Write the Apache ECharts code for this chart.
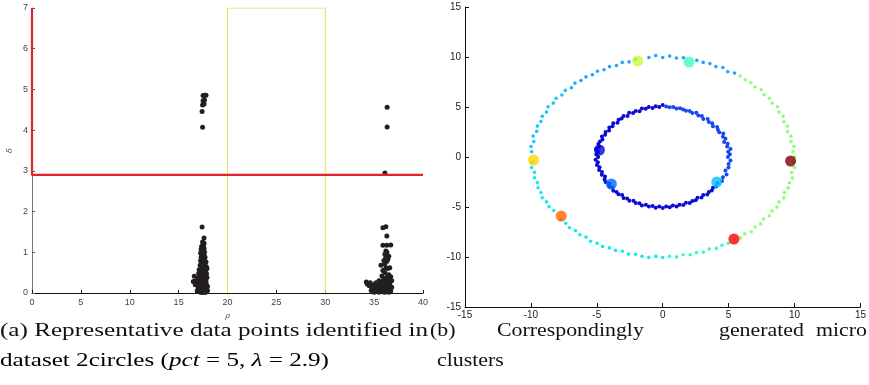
<!DOCTYPE html>
<html><head><meta charset="utf-8">
<script src="https://cdn.jsdelivr.net/npm/echarts@6/dist/echarts.min.js"></script>
<style>html,body{margin:0;padding:0;background:#fff}#c{width:869px;height:385px}</style>
</head><body><div id="c"></div>
<script>
// ---------- panel (a): decision graph (rho, delta) ----------
const rhoTicks = [0, 5, 10, 15, 20, 25, 30, 35, 40];
const deltaTicks = [0, 1, 2, 3, 4, 5, 6, 7];
const lambda = 2.9;
const selectBox = [[20, 0], [20, 7], [30, 7], [30, 0]];
const cluster1Points = [
 [17.3,0.01],[17.5,0.02],[17.7,0.02],[17.1,0.03],[17.9,0.04],[17.4,0.05],[17.6,0.06],[17.2,0.07],[17.8,0.08],[17.0,0.09],
 [17.45,0.10],[17.65,0.11],[17.35,0.12],[17.55,0.13],[17.15,0.14],[17.75,0.15],[17.95,0.16],[17.25,0.17],[17.5,0.18],[17.05,0.19],
 [17.85,0.20],[17.4,0.21],[17.6,0.22],[17.3,0.23],[17.7,0.24],[16.9,0.25],[17.2,0.26],[17.5,0.27],[17.8,0.28],[17.1,0.29],
 [17.45,0.30],[17.65,0.31],[16.8,0.30],[17.35,0.32],[17.55,0.34],[17.25,0.35],[17.75,0.36],[17.0,0.37],[17.9,0.38],[17.4,0.39],
 [16.6,0.41],[17.6,0.40],[17.3,0.42],[17.15,0.44],[17.5,0.45],[17.7,0.46],[17.85,0.48],[17.2,0.49],[17.45,0.50],[17.6,0.52],
 [17.35,0.53],[17.55,0.55],[17.75,0.56],[17.1,0.57],[17.25,0.58],[17.9,0.60],[17.5,0.61],[17.4,0.62],[17.65,0.63],[17.3,0.65],
 [17.55,0.66],[17.2,0.68],[17.7,0.69],[17.45,0.71],[17.6,0.73],[17.35,0.75],[17.8,0.76],[17.5,0.78],[17.25,0.79],[17.65,0.81],
 [17.4,0.83],[17.55,0.85],[17.3,0.87],[17.7,0.88],[17.45,0.90],[17.6,0.92],[17.35,0.94],[17.5,0.96],[17.25,0.98],[17.65,1.00],
 [17.4,1.02],[17.55,1.05],[17.3,1.07],[17.6,1.09],[17.45,1.11],[17.35,1.14],[17.55,1.16],[17.5,1.19],[17.6,1.22],[17.45,1.25],
 [17.6,1.35],[17.4,1.62],[16.9,0.05],[17.0,0.15],[17.95,0.06],[17.85,0.12],[16.95,0.35],[17.8,0.44],[17.15,0.08],[17.65,0.03],
 [16.5,0.28],[16.7,0.20],[17.05,0.48],[17.85,0.64],[17.75,0.02]
];
const cluster1Peaks = [[17.45,4.07],[17.4,4.46],[17.45,4.62],[17.6,4.64],[17.5,4.72],[17.65,4.74],[17.5,4.85],[17.65,4.86],[17.8,4.86]];
const cluster2Points = [
 [34.2,0.27],[34.3,0.22],[34.5,0.18],[34.6,0.25],[34.8,0.12],[34.9,0.2],[35.0,0.08],[35.1,0.15],[35.2,0.25],[35.3,0.05],
 [35.4,0.12],[35.5,0.3],[35.6,0.08],[35.7,0.2],[35.8,0.04],[35.9,0.15],[36.0,0.1],[36.1,0.25],[36.2,0.05],[36.3,0.18],
 [36.4,0.3],[36.5,0.1],[36.6,0.22],[36.7,0.4],[36.8,0.14],[35.0,0.02],[35.2,0.1],[35.5,0.02],[35.7,0.1],[35.9,0.03],
 [36.1,0.02],[36.3,0.06],[36.5,0.02],[36.7,0.05],[34.9,0.05],[35.4,0.22],[35.6,0.28],[35.8,0.25],[36.0,0.3],[36.2,0.22],
 [36.4,0.15],[36.6,0.08],[34.7,0.06],[35.3,0.18],[36.8,0.3],
 [36.0,0.35],[36.3,0.38],[35.8,0.42],[36.5,0.45],[36.1,0.5],[35.9,0.55],[36.4,0.6],[36.2,0.62],[35.7,0.68],[36.6,0.62],
 [36.1,0.72],[36.3,0.78],[36.0,0.8],[36.4,0.83],[36.2,0.88],[36.5,0.9],[36.1,0.95],[36.3,1.0],[36.2,1.03],
 [35.9,1.17],[36.3,1.17],[36.7,1.18],[36.3,1.4],[35.9,1.6],[36.2,1.63]
];
const cluster2Peaks = [[36.1,2.95],[36.33,4.08],[36.33,4.56]];

// ---------- panel (b): 2circles micro clusters (x, y) ----------
const axisTicksB = [-15, -10, -5, 0, 5, 10, 15];
const innerRight = [
 [4.05,-2.94],[4.16,-2.60],[4.50,-2.39],[4.57,-2.03],[4.84,-1.76],[4.76,-1.36],[4.99,-1.06],[5.00,-0.70],[5.14,-0.36],[4.95,0.0],
 [5.09,0.27],[4.97,0.52],[5.14,0.81],[4.89,1.04],[4.93,1.32],[4.66,1.51],[4.76,1.83],[4.57,2.03],[4.59,2.34],[4.29,2.48],
 [4.19,2.72],[4.13,3.00],[3.81,3.08],[3.75,3.38],[3.50,3.50],[3.41,3.79],[3.08,3.81],[2.97,4.09],[2.70,4.15],[2.55,4.42],
 [2.25,4.41],[2.05,4.61],[1.77,4.62],[1.55,4.76],[1.31,4.88],[1.03,4.84],[0.79,4.99],[0.52,4.97],[0.26,5.04]
];
const innerLeft = [
 [0.0,5.2],[-0.26,4.99],[-0.53,5.07],[-0.77,4.89],[-1.06,4.99],[-1.29,4.83],[-1.58,4.85],[-1.76,4.57],[-2.05,4.61],[-2.25,4.41],
 [-2.55,4.42],[-2.67,4.11],[-2.97,4.09],[-3.12,3.85],[-3.35,3.72],[-3.43,3.43],[-3.75,3.38],[-3.81,3.08],[-4.05,2.94],[-4.07,2.64],
 [-4.33,2.50],[-4.37,2.22],[-4.61,2.05],[-4.57,1.76],[-4.76,1.55],[-4.88,1.31],[-4.84,1.03],[-5.04,0.80],[-4.92,0.52],[-5.04,0.26],
 [-4.9,0.0],[-5.09,-0.27],[-4.92,-0.52],[-4.99,-0.79],[-4.79,-1.02],[-4.83,-1.29],[-4.61,-1.50],[-4.62,-1.77],[-4.38,-1.95],[-4.41,-2.25],
 [-4.33,-2.50],[-4.07,-2.64],[-4.05,-2.94],[-3.81,-3.08],[-3.75,-3.38],[-3.50,-3.50],[-3.35,-3.72],[-3.08,-3.81],[-2.97,-4.09],[-2.70,-4.15],
 [-2.53,-4.37],[-2.22,-4.37],[-2.05,-4.61],[-1.77,-4.62],[-1.58,-4.85],[-1.28,-4.78],[-1.05,-4.94],[-0.77,-4.89],[-0.53,-5.07],[-0.26,-4.94],
 [0.0,-5.1],[0.26,-4.94],[0.53,-5.02],[0.77,-4.84],[1.05,-4.94],[1.28,-4.78],[1.56,-4.80],[1.76,-4.57],[2.05,-4.61],[2.25,-4.41],
 [2.50,-4.33],[2.64,-4.07],[2.94,-4.05],[3.08,-3.81],[3.38,-3.75],[3.50,-3.50],[3.72,-3.35],[3.81,-3.08]
];
const outerTop = [
 [5.45,8.39],[4.93,8.53],[4.56,8.95],[4.03,9.04],[3.58,9.34],[3.07,9.46],[2.59,9.66],[1.57,9.93],[1.04,9.90],[0.53,10.09],
 [0.0,9.95],[-0.53,10.14],[-1.05,9.95],[-2.08,9.78],[-2.55,9.51],[-3.07,9.46],[-3.51,9.15],[-4.03,9.04],[-4.45,8.73],[-4.95,8.57],
 [-5.34,8.22],[-5.82,8.01],[-6.20,7.65],[-6.66,7.39],[-6.93,6.93]
];
const outerUpperLeft = [
 [-7.39,6.66],[-7.65,6.20],[-8.09,5.88],[-8.30,5.39],[-8.70,5.03],[-8.82,4.49],[-9.14,4.07],[-9.24,3.55],[-9.51,3.09],[-9.56,2.56],
 [-9.83,2.09],[-9.78,1.55],[-9.99,1.05],[-9.94,0.52]
];
const outerLowerLeft = [
 [-9.89,-0.52],[-9.95,-1.05],[-9.73,-1.54],[-9.73,-2.07],[-9.51,-2.55],[-9.46,-3.07],[-9.24,-3.55],[-9.14,-4.07],[-8.82,-4.49],[-8.62,-4.98],
 [-8.26,-5.36],[-7.73,-6.26],[-7.36,-6.62],[-7.07,-7.07],[-6.62,-7.36],[-6.29,-7.77],[-5.82,-8.01],[-5.47,-8.43],[-4.98,-8.62],[-4.56,-8.95],
 [-4.05,-9.09],[-3.58,-9.34],[-3.06,-9.42],[-2.60,-9.71],[-2.07,-9.73],[-1.57,-9.93],[-1.06,-10.04],[-0.52,-9.94],[0.0,-10.05]
];
const outerBottom = [
 [0.52,-9.94],[1.05,-9.99],[1.55,-9.78],[2.08,-9.78],[2.56,-9.56],[3.09,-9.51],[3.53,-9.20],[4.07,-9.14],[4.49,-8.82],[4.98,-8.62]
];
const outerRight = [
 [5.88,-8.09],[6.23,-7.69],[6.72,-7.47],[7.00,-7.00],[7.43,-6.69],[7.65,-6.20],[8.09,-5.88],[8.30,-5.39],[8.66,-5.00],[8.82,-4.49],
 [9.18,-4.09],[9.24,-3.55],[9.51,-3.09],[9.61,-2.58],[9.83,-2.09],[9.78,-1.55],[9.99,-1.05],[9.94,-0.52],[10.0,0.0],[9.89,0.52],
 [9.95,1.05],[9.73,1.54],[9.73,2.07],[9.47,2.54],[9.46,3.07],[9.20,3.53],[9.14,4.07],[8.82,4.49],[8.70,5.03],[8.30,5.39],
 [8.09,5.88],[7.69,6.23],[7.47,6.72],[7.00,7.00],[6.69,7.43],[6.26,7.73],[5.88,8.09]
];
const centers = [[-4.8,0.7],[-3.9,-2.7],[4.1,-2.5],[-1.9,9.6],[2.0,9.5],[9.7,-0.4],[5.4,-8.2],[-7.7,-5.9],[-9.8,-0.3]];
const centerColors = ['#0000d8','#0068ff','#00c4ff','#c4ff3c','#40ffb8','#7f0000','#ff0000','#ff6400','#ffd200'];

// ---------- captions ----------
const captionA1 = '(a) Representative data points identified in';
const captionA2Parts = [['dataset 2circles (', 'n'], ['pct', 'i'], [' = 5, ', 'n'], ['λ', 'i'], [' = 2.9)', 'n']];
const captionBWords = ['(b)', 'Correspondingly', 'generated', 'micro'];
const captionB2 = 'clusters';

const chart = echarts.init(document.getElementById('c'), null, {renderer: 'canvas'});
const capFont = '19px "Liberation Serif"';
const mctx = document.createElement('canvas').getContext('2d');
mctx.font = capFont;
const capScale = 428 / mctx.measureText(captionA1).width;
const bScale = 1.15;

const tickFontA = {fontFamily: 'Liberation Sans', fontSize: 9, color: '#444'};
const tickFontB = {fontFamily: 'Liberation Sans', fontSize: 10, color: '#222'};
function sc(data, color, size, gi) {
  return {type: 'scatter', xAxisIndex: gi, yAxisIndex: gi, data: data, symbolSize: size,
          itemStyle: {color: color, opacity: 1}, silent: true, animation: false};
}
const richA = {n: {fontFamily: 'Liberation Serif', fontSize: 19, color: '#111'},
               i: {fontFamily: 'Liberation Serif', fontSize: 19, fontStyle: 'italic', color: '#111'}};
function word(x, y, text, scale, align) {
  return {type: 'text', x: x, y: y, scaleX: scale, scaleY: 1,
          style: {x: 0, y: 0, text: text, fill: '#111', font: capFont, textVerticalAlign: 'middle', textAlign: align || 'left'}};
}
const option = {
  animation: false,
  grid: [
    {left: 32, top: 8, width: 391, height: 285},
    {left: 465, top: 7, width: 398, height: 300}
  ],
  xAxis: [
    {gridIndex: 0, type: 'value', min: rhoTicks[0], max: rhoTicks[rhoTicks.length-1], interval: 5,
     axisLine: {onZero: false, lineStyle: {color: '#111', width: 1}}, axisTick: {inside: true, length: 3, lineStyle: {color: '#111'}},
     axisLabel: Object.assign({margin: 5}, tickFontA), splitLine: {show: false},
     name: 'ρ', nameLocation: 'middle', nameGap: 19, nameTextStyle: {fontFamily: 'DejaVu Serif', fontSize: 8, color: '#444', fontStyle: 'italic'}},
    {gridIndex: 1, type: 'value', min: axisTicksB[0], max: axisTicksB[axisTicksB.length-1], interval: 5,
     axisLine: {onZero: false, lineStyle: {color: '#111', width: 1}}, axisTick: {inside: true, length: 4, lineStyle: {color: '#111'}},
     axisLabel: Object.assign({margin: 3}, tickFontB), splitLine: {show: false}}
  ],
  yAxis: [
    {gridIndex: 0, type: 'value', min: deltaTicks[0], max: deltaTicks[deltaTicks.length-1], interval: 1,
     axisLine: {onZero: false, lineStyle: {color: '#777', width: 1}}, axisTick: {inside: true, length: 3, lineStyle: {color: '#555'}},
     axisLabel: Object.assign({margin: 4}, tickFontA), splitLine: {show: false},
     name: 'δ', nameLocation: 'middle', nameGap: 18, nameTextStyle: {fontFamily: 'DejaVu Serif', fontSize: 8, color: '#444', fontStyle: 'italic'}},
    {gridIndex: 1, type: 'value', min: axisTicksB[0], max: axisTicksB[axisTicksB.length-1], interval: 5,
     axisLine: {onZero: false, lineStyle: {color: '#111', width: 1}}, axisTick: {inside: true, length: 4, lineStyle: {color: '#111'}},
     axisLabel: Object.assign({margin: 4}, tickFontB), splitLine: {show: false}}
  ],
  series: [
    {type: 'line', xAxisIndex: 0, yAxisIndex: 0, data: selectBox, symbol: 'none', silent: true,
     lineStyle: {color: '#e6e05a', width: 1}, z: 1},
    {type: 'line', xAxisIndex: 0, yAxisIndex: 0, data: [[0, 7], [0, lambda], [40, lambda]], symbol: 'none', silent: true,
     lineStyle: {color: '#e3232b', width: 2.2}, z: 3},
    sc(cluster1Points, '#231f20', 5, 0),
    sc(cluster1Peaks, '#231f20', 5, 0),
    sc(cluster2Points, '#231f20', 5, 0),
    sc(cluster2Peaks, '#231f20', 5, 0),
    sc(innerLeft, '#0a0ad2', 4, 1),
    sc(innerRight, '#1448f5', 4, 1),
    sc(outerTop, '#22a4ff', 3.6, 1),
    sc(outerUpperLeft, '#12c8ff', 3.6, 1),
    sc(outerLowerLeft, '#10ecf0', 3.6, 1),
    sc(outerBottom, '#3cf8c8', 3.6, 1),
    sc(outerRight, '#8cff78', 3.6, 1),
    {type: 'scatter', xAxisIndex: 1, yAxisIndex: 1, symbolSize: 11, silent: true, z: 5,
     data: centers.map((p, i) => ({value: p, itemStyle: {color: centerColors[i]}}))}
  ],
  graphic: [
    word(0, 331, captionA1, capScale),
    {type: 'text', x: 0, y: 361, scaleX: capScale, scaleY: 1,
     style: {x: 0, y: 0, rich: richA, textVerticalAlign: 'middle', textAlign: 'left',
             text: captionA2Parts.map(p => '{' + p[1] + '|' + p[0] + '}').join('')}},
    word(430, 331, captionBWords[0], bScale),
    word(497, 331, captionBWords[1], bScale),
    word(719, 331, captionBWords[2], bScale),
    word(867, 331, captionBWords[3], bScale, 'right'),
    word(437, 361, captionB2, bScale)
  ]
};
chart.setOption(option);
</script>
</body></html>
